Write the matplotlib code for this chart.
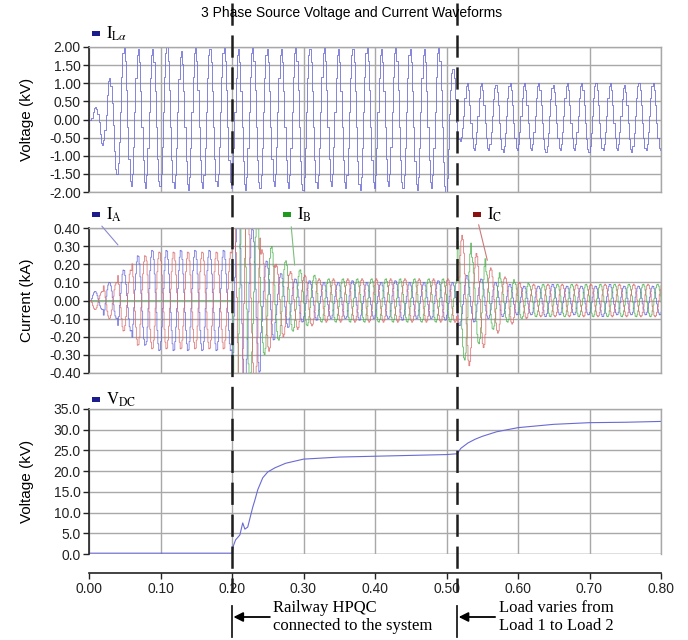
import numpy as np
import matplotlib
matplotlib.use("Agg")
import matplotlib.pyplot as plt
from matplotlib import transforms
from matplotlib.lines import Line2D
from matplotlib.patches import Rectangle

plt.rcParams["font.family"] = ["Liberation Sans", "DejaVu Sans"]
plt.rcParams["mathtext.fontset"] = "stix"
plt.rcParams["lines.scale_dashes"] = False

# ---------------- data ----------------
FREQ = 50.0            # Hz
DELAY = 0.003          # s, waveform zero crossing offset
EVENT_TIMES = [0.20, 0.515]
EVENT_TEXTS = ["Railway HPQC\nconnected to the system", "Load varies from\nLoad 1 to Load 2"]
TITLE = "3 Phase Source Voltage and Current Waveforms"

# top panel, per-cycle positive / negative peaks (kV), 40 cycles of 20 ms
ila_pos = [0.35, 1.15, 2.00, 1.95, 1.95, 2.00, 1.90, 2.00, 1.95, 2.00,
           1.95, 2.00, 1.95, 1.95, 2.00, 1.95, 2.00, 1.95, 1.95, 2.00,
           1.95, 2.00, 1.95, 1.95, 2.00, 1.40, 1.00, 1.00, 0.95, 1.00,
           1.00, 1.00, 0.95, 1.00, 1.00, 1.00, 1.00, 0.95, 1.00, 1.00]
ila_neg = [-0.70, -1.50, -1.85, -1.90, -1.85, -1.90, -1.95, -1.90, -1.85, -1.90,
           -1.95, -1.90, -1.85, -1.90, -1.95, -1.90, -1.85, -1.90, -1.95, -1.90,
           -1.85, -1.90, -1.95, -1.90, -2.00, -0.60, -0.85, -0.85, -0.90, -0.85,
           -0.85, -0.90, -0.85, -0.85, -0.90, -0.85, -0.85, -0.90, -0.85, -0.85]

# middle panel, per-cycle amplitudes (kA); cycles restart at each event:
# 10 cycles before 0.20 s, 16 cycles 0.20-0.515 s, 15 cycles after 0.515 s
ia_amp = [0.05, 0.10, 0.17, 0.25, 0.28, 0.28, 0.28, 0.28, 0.28, 0.28,
          0.55, 0.40, 0.22, 0.15, 0.12, 0.11, 0.10, 0.10, 0.11, 0.10,
          0.10, 0.11, 0.10, 0.10, 0.11, 0.10,
          0.14, 0.12, 0.10, 0.09, 0.08, 0.08, 0.09, 0.08, 0.08, 0.08,
          0.09, 0.08, 0.08, 0.08, 0.08]
ib_amp = [0.00, 0.00, 0.00, 0.00, 0.00, 0.00, 0.00, 0.00, 0.00, 0.00,
          0.65, 0.45, 0.30, 0.22, 0.17, 0.14, 0.12, 0.12, 0.12, 0.12,
          0.12, 0.12, 0.12, 0.12, 0.12, 0.12,
          0.33, 0.24, 0.16, 0.12, 0.10, 0.09, 0.09, 0.09, 0.09, 0.09,
          0.09, 0.09, 0.09, 0.09, 0.09]
ic_amp = [0.05, 0.10, 0.17, 0.25, 0.27, 0.27, 0.27, 0.27, 0.27, 0.27,
          0.65, 0.50, 0.28, 0.20, 0.16, 0.14, 0.12, 0.12, 0.12, 0.12,
          0.12, 0.12, 0.12, 0.12, 0.12, 0.12,
          0.36, 0.26, 0.18, 0.13, 0.10, 0.09, 0.09, 0.09, 0.09, 0.09,
          0.09, 0.09, 0.09, 0.09, 0.09]
# phase angles (deg) before / after HPQC connection
phase_before = [0, 0, 180]
phase_after = [0, -120, 120]

# bottom panel, DC voltage (kV)
vdc_t = [0.000, 0.200, 0.202, 0.205, 0.211, 0.215, 0.218, 0.222, 0.229, 0.232,
         0.236, 0.243, 0.250, 0.260, 0.275, 0.300, 0.350, 0.400, 0.450, 0.500,
         0.515, 0.520, 0.530, 0.540, 0.550, 0.570, 0.600, 0.650, 0.700, 0.750, 0.800]
vdc_v = [0.2, 0.2, 2.0, 3.4, 4.6, 7.5, 6.0, 6.5, 11.3, 13.0,
         15.5, 18.4, 19.8, 20.8, 21.9, 22.9, 23.4, 23.6, 23.8, 24.0,
         24.2, 25.5, 26.8, 27.7, 28.4, 29.5, 30.5, 31.3, 31.7, 31.8, 32.0]

xticks = [0.0, 0.1, 0.2, 0.3, 0.4, 0.5, 0.6, 0.7, 0.8]
yticks_top = [-2.0, -1.5, -1.0, -0.5, 0.0, 0.5, 1.0, 1.5, 2.0]
yticks_mid = [-0.4, -0.3, -0.2, -0.1, 0.0, 0.1, 0.2, 0.3, 0.4]
yticks_bot = [0.0, 5.0, 10.0, 15.0, 20.0, 25.0, 30.0, 35.0]

# ---------------- build waveforms from per-cycle peaks ----------------
T = 1.0 / FREQ
DT = T / 12.0
t = np.arange(0.0, 0.8 + 1e-9, DT)
ph = 2 * np.pi * FREQ * (t - DELAY)
k = np.floor((t - DELAY) / T).astype(int)
kc = np.clip(k, 0, len(ila_pos) - 1)
s = np.sin(ph)
ila = np.where(s >= 0, np.array(ila_pos)[kc] * s, -np.array(ila_neg)[kc] * s)
ila[t < DELAY] = 0.0

# cycle start times restart at each event
seg_edges = [0.0] + EVENT_TIMES + [0.8]
cyc_starts = np.concatenate([np.arange(a, b - 1e-9, T) for a, b in zip(seg_edges[:-1], seg_edges[1:])])
t2 = np.arange(0.0, 0.8 + 1e-9, T / 16.0)
ph2 = 2 * np.pi * FREQ * (t2 - DELAY)
kk = np.clip(np.searchsorted(cyc_starts, t2 + 1e-9) - 1, 0, len(ia_amp) - 1)
currents = []
for i, amps in enumerate([ia_amp, ib_amp, ic_amp]):
    pdeg = np.where(t2 < EVENT_TIMES[0], phase_before[i], phase_after[i])
    w = np.array(amps)[kk] * np.sin(ph2 + np.deg2rad(pdeg))
    w[t2 < DELAY] = 0.0
    currents.append(w)

# ---------------- figure ----------------
W, H = 688, 640
fig = plt.figure(figsize=(W / 100, H / 100), dpi=100)
fx = lambda px: px / W
fy = lambda py: 1 - py / H

L, R = 89, 661
panels = [(47, 192), (228, 373), (409, 554)]
GRID = "#a8a8a8"
axes = []
for top, bot in panels:
    ax = fig.add_axes([fx(L), fy(bot), (R - L) / W, (bot - top) / H])
    ax.set_xlim(0, 0.8)
    ax.set_xticks(xticks)
    ax.grid(True, color=GRID, lw=1.0)
    ax.set_axisbelow(True)
    for sp in ["top", "right", "bottom"]:
        ax.spines[sp].set_color(GRID)
        ax.spines[sp].set_linewidth(1.0)
    ax.spines["left"].set_color("#222222")
    ax.spines["left"].set_linewidth(1.2)
    ax.tick_params(axis="y", direction="out", length=4, width=1, colors="#222222",
                   labelsize=10, pad=2)
    ax.tick_params(axis="x", length=0, labelbottom=False)
    axes.append(ax)

ax1, ax2, ax3 = axes

ax1.plot(t, ila, color="#7070d8", lw=0.6, drawstyle="steps-post")
ax1.set_ylim(-2.0, 2.0)
ax1.set_yticks(yticks_top)
ax1.set_yticklabels([f"{v:.2f}" for v in yticks_top])

cols = ["#6464da", "#4cb04c", "#d86a6a"]
for w, c in zip(currents, cols):
    ax2.plot(t2, w, color=c, lw=0.6, drawstyle="steps-post", alpha=0.85)
ax2.set_ylim(-0.4, 0.4)
ax2.set_yticks(yticks_mid)
ax2.set_yticklabels([f"{v:.2f}" for v in yticks_mid])

ax3.plot(vdc_t, vdc_v, color="#6a6ad4", lw=0.8)
ax3.set_ylim(0, 35)
ax3.set_yticks(yticks_bot)
ax3.set_yticklabels([f"{v:.1f}" for v in yticks_bot])
ax3.spines["bottom"].set_position(("outward", 14))
ax3.spines["bottom"].set_color("#222222")
ax3.spines["bottom"].set_linewidth(1.2)
ax3.tick_params(axis="x", length=4, width=1, direction="out", colors="#222222",
                labelbottom=True, labelsize=10, pad=2)
ax3.set_xticklabels([f"{v:.2f}" for v in xticks])
ax3.axhline(0, color=GRID, lw=1.0, zorder=0)

for lab, (top, bot) in zip(["Voltage (kV)", "Current (kA)", "Voltage (kV)"], panels):
    fig.text(fx(27), fy((top + bot) / 2), lab, rotation=90, fontsize=11,
             ha="center", va="center")

# title
fig.text(fx(352), fy(13), TITLE, fontsize=10, ha="center", va="center")

# legend swatches
def swatch(x, y, color, label):
    fig.add_artist(Rectangle((fx(x), fy(y + 4)), 8 / W, 5 / H, transform=fig.transFigure,
                             facecolor=color, edgecolor="none"))
    fig.text(fx(x + 14), fy(y + 2), label, fontsize=12, ha="left", va="center")

swatch(92, 32, "#1c1c8c", r"$\mathrm{I}_{\mathrm{L}\alpha}$")
swatch(92, 213, "#1c1c8c", r"$\mathrm{I}_{\mathrm{A}}$")
swatch(283, 213, "#1f9a1f", r"$\mathrm{I}_{\mathrm{B}}$")
swatch(473, 213, "#8b1010", r"$\mathrm{I}_{\mathrm{C}}$")
swatch(92, 398, "#1c1c8c", r"$\mathrm{V}_{\mathrm{DC}}$")

# leader lines in the current panel
leaders = [((0.043, 0.295), (100, 224), "#8a8ad0"),
           ((0.288, 0.18), (291, 224), "#7cbf7c"),
           ((0.558, 0.207), (478, 222), "#cc7a7a")]
for (tx, vy), (px, py), c in leaders:
    ax2.annotate("", xy=(tx, vy), xytext=(fx(px), fy(py)), textcoords="figure fraction",
                 arrowprops=dict(arrowstyle="-", color=c, lw=0.8), annotation_clip=False)

# event dashed lines, bars, arrows and texts
btrans = transforms.blended_transform_factory(ax3.transData, fig.transFigure)
for te, txt in zip(EVENT_TIMES, EVENT_TEXTS):
    ln = Line2D([te, te], [fy(3), fy(592)], transform=btrans, color="#1e1e1e", lw=1.8,
                dashes=(16, 7))
    fig.add_artist(ln)
    bar = Line2D([te, te], [fy(606), fy(637)], transform=btrans, color="#1e1e1e", lw=1.3)
    fig.add_artist(bar)
    ax3.annotate("", xy=(te + 0.002, fy(617)), xycoords=btrans,
                 xytext=(te + 0.053, fy(617)), textcoords=btrans,
                 arrowprops=dict(arrowstyle="-|>", color="black", lw=1.3, mutation_scale=14,
                                 shrinkA=0, shrinkB=0),
                 annotation_clip=False)
    fig.text(te + 0.058, fy(617), txt, transform=btrans, fontsize=12,
             family="Liberation Serif", ha="left", va="center", linespacing=1.15)

fig.savefig("out.png", dpi=100)
